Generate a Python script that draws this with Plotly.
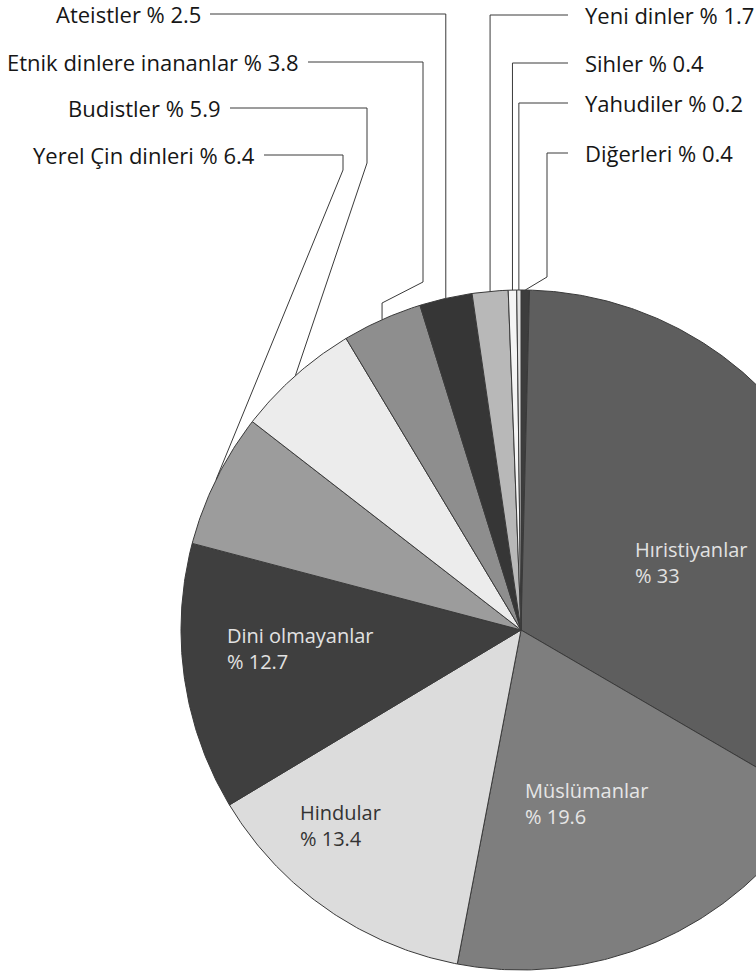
import math
import plotly.graph_objects as go

# ---------------- data ----------------
categories = ["Diğerleri", "Hıristiyanlar", "Müslümanlar", "Hindular",
              "Dini olmayanlar", "Yerel Çin dinleri", "Budistler",
              "Etnik dinlere inananlar", "Ateistler", "Yeni dinler",
              "Sihler", "Yahudiler"]
values = [0.4, 33, 19.6, 13.4, 12.7, 6.4, 5.9, 3.8, 2.5, 1.7, 0.4, 0.2]
colors = ["#3d3d3d", "#5e5e5e", "#7e7e7e", "#dcdcdc", "#3f3f3f", "#9c9c9c",
          "#ececec", "#8e8e8e", "#363636", "#b8b8b8", "#f4f4f4", "#e2e2e2"]

inside_labels = ["Hıristiyanlar", "Müslümanlar", "Hindular", "Dini olmayanlar"]

# ---------------- layout constants (screen pixels) ----------------
W, H = 756, 979
CX, CY, R = 521, 630, 340

def px(x):
    return (x - CX) / R

def py(y):
    return (CY - y) / R

# inside label positions: left x, centre y, text colour
inside_pos = {
    "Hıristiyanlar": (633, 562, "#e2e2e2"),
    "Müslümanlar": (523, 803, "#e6e6e6"),
    "Hindular": (298, 825, "#333333"),
    "Dini olmayanlar": (225, 648, "#e2e2e2"),
}

# outer labels: side, text anchor x, text y, elbow points (pixels), None => arc x
outer_pos = {
    "Ateistler": ("left", 203, 14, [(None, 14)]),
    "Etnik dinlere inananlar": ("left", 301, 62, [(423, 62), (423, 282), (None, 303)]),
    "Budistler": ("left", 223, 108, [(367, 108), (367, 163)]),
    "Yerel Çin dinleri": ("left", 257, 155, [(343, 155), (343, 170)]),
    "Yeni dinler": ("right", 583, 15, [(None, 15)]),
    "Sihler": ("right", 583, 63, [(None, 63)]),
    "Yahudiler": ("right", 583, 103, [(None, 103)]),
    "Diğerleri": ("right", 583, 153, [(547, 153), (547, 277)]),
}

FONT = "Open Sans"

def fmt(v):
    return f"{v:g}"

fig = go.Figure()

total = sum(values)
cum = 0.0
mid_angle = {}
for name, v, c in zip(categories, values, colors):
    a0 = cum / total * 2 * math.pi
    a1 = (cum + v) / total * 2 * math.pi
    cum += v
    mid_angle[name] = (a0 + a1) / 2
    n = max(3, int((a1 - a0) / (2 * math.pi) * 720))
    xs = [0.0]
    ys = [0.0]
    for k in range(n + 1):
        a = a0 + (a1 - a0) * k / n
        xs.append(math.sin(a))
        ys.append(math.cos(a))
    xs.append(0.0)
    ys.append(0.0)
    fig.add_trace(go.Scatter(
        x=xs, y=ys, mode="lines", fill="toself", fillcolor=c,
        line=dict(color="#3a3a3a", width=1), hoverinfo="skip",
        showlegend=False))

# connectors and outer labels
for name, (side, tx, ty, elbows) in outer_pos.items():
    v = values[categories.index(name)]
    a = mid_angle[name]
    ax, ay = math.sin(a), math.cos(a)
    if side == "left":
        start = (px(tx + 7), py(ty))
    else:
        start = (px(tx - 15), py(ty))
    pts = [start]
    for ex, ey in elbows:
        pts.append((ax if ex is None else px(ex), py(ey)))
    pts.append((ax, ay))
    fig.add_trace(go.Scatter(
        x=[p[0] for p in pts], y=[p[1] for p in pts], mode="lines",
        line=dict(color="#3a3a3a", width=1), hoverinfo="skip",
        showlegend=False))
    fig.add_annotation(
        x=px(tx), y=py(ty), xref="x", yref="y",
        text=f"{name} % {fmt(v)}", showarrow=False,
        xanchor="right" if side == "left" else "left", yanchor="middle",
        font=dict(family=FONT, size=22, color="#161616"))

for name in inside_labels:
    v = values[categories.index(name)]
    lx, ly, tc = inside_pos[name]
    fig.add_annotation(
        x=px(lx), y=py(ly), xref="x", yref="y",
        text=f"{name}<br>% {fmt(v)}", showarrow=False, align="left",
        xanchor="left", yanchor="middle",
        font=dict(family=FONT, size=20, color=tc))

fig.update_layout(
    width=W, height=H, margin=dict(l=0, r=0, t=0, b=0),
    paper_bgcolor="white", plot_bgcolor="white", showlegend=False,
    hovermode=False,
    xaxis=dict(range=[px(0), px(W)], visible=False, fixedrange=True),
    yaxis=dict(range=[py(H), py(0)], visible=False, fixedrange=True),
)

fig.write_html("out.html",
               config={"displayModeBar": False, "staticPlot": True},
               post_script="document.body.style.margin='0';"
                           "document.body.style.overflow='hidden';")
